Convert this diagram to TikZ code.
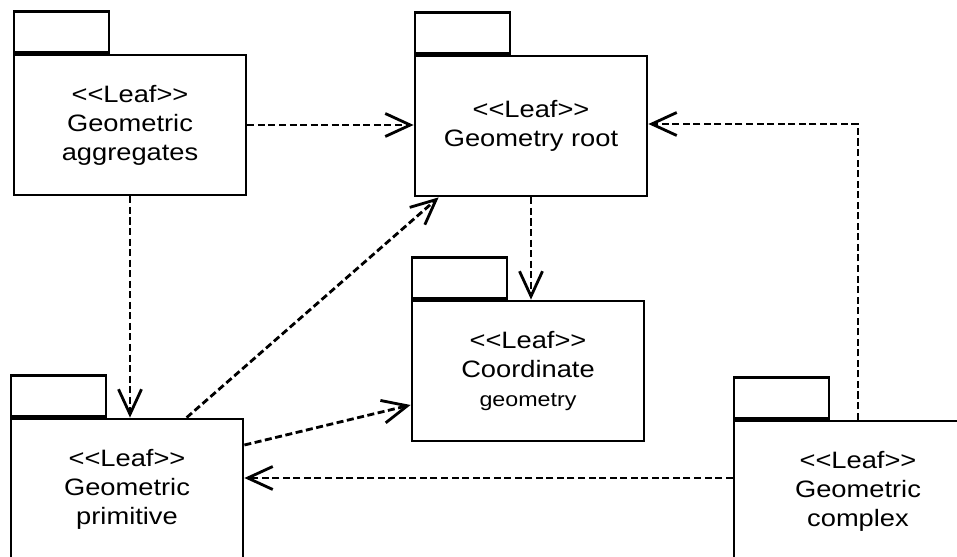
\documentclass[tikz,border=0pt]{standalone}
\usepackage{fontspec}
\newfontfamily\pkgfont[FakeStretch=1.15]{Liberation Sans}
\usetikzlibrary{calc}
\usetikzlibrary{arrows.meta}
\tikzset{pkg/.style={rectangle,draw=black,line width=1.6pt,minimum width=4.64cm,minimum height=2.8cm,align=center,inner sep=0pt,font=\pkgfont\fontsize{13.5}{16.5}\selectfont}}
\tikzset{pkgtab/.style={rectangle,draw=black,line width=1.6pt,minimum width=1.9cm,minimum height=0.82cm,inner sep=0pt}}
\tikzset{dep/.style={line width=1.6pt,dash pattern=on 4pt off 2pt,-{Straight Barb[length=0.5cm,width=0.46cm]}}}

\begin{document}
\begin{tikzpicture}[x=0.02cm,y=-0.02cm]
\useasboundingbox (0,0) rectangle (957,557);
\clip (0,0) rectangle (957,557);

% packages
\node[pkg] (agg) at (130,125) {<<Leaf>>\\Geometric\\aggregates};
\node[pkg] (root) at (531,126) {<<Leaf>>\\Geometry root};
\node[pkg] (coord) at (528,371) {<<Leaf>>\\Coordinate\\{\fontsize{11.5}{14}\selectfont geometry}};
\node[pkg] (prim) at (127,489) {<<Leaf>>\\Geometric\\primitive};
\node[pkg, minimum width=4.96cm] (cplx) at (858,491) {<<Leaf>>\\Geometric\\complex};

\foreach \p in {agg,root,coord,prim,cplx} {
	\node[pkgtab, anchor=south west] (\p-tab) at (\p.north west) {};
}

% dependencies
\coordinate (cplx-out) at ($(cplx.west)+(0,-13)$);
\draw[dep] (agg.east) -- (agg.east -| root.west);
\draw[dep] (agg.south) -- (agg.south |- prim.north);
\draw[dep] ($(prim.north west)+(177,0)$) -- ($(root.south west)+(25,0)$);
\draw[dep] ($(prim.east)+(0,-44)$) -- ($(coord.west)+(0,34)$);
\draw[dep] (cplx-out) -- (cplx-out -| prim.east);
\draw[dep] (cplx.north) |- ($(root.east)+(0,-2)$);
\draw[dep] (root.south) -- (root.south |- coord.north);

\end{tikzpicture}
\end{document}
